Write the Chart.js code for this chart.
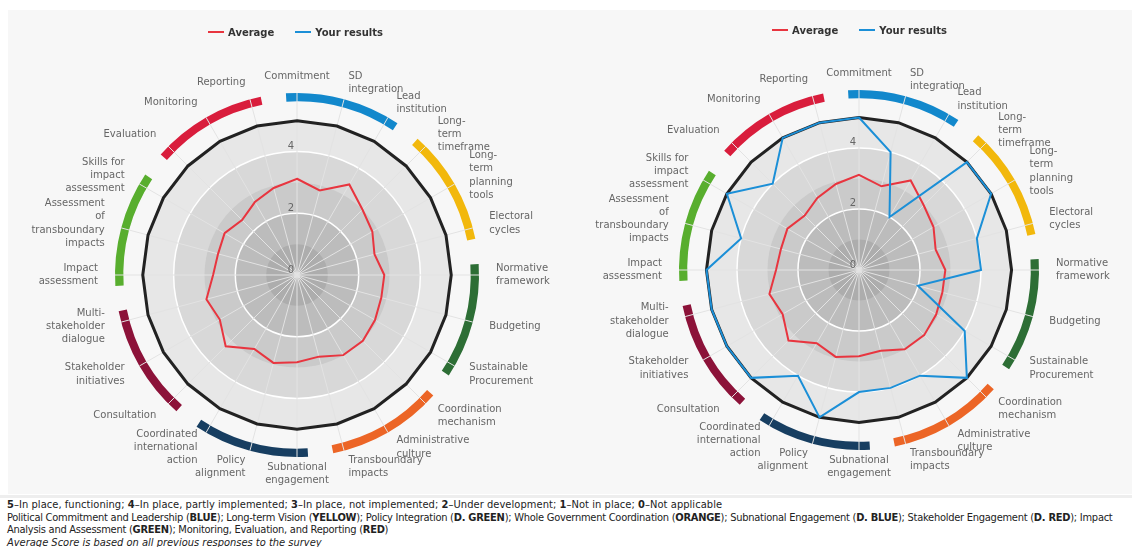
<!DOCTYPE html>
<html>
<head>
<meta charset="utf-8">
<script src="https://cdn.jsdelivr.net/npm/chart.js@4.4.1/dist/chart.umd.min.js"></script>
<style>
  body { margin:0; width:1132px; height:547px; overflow:hidden; background:#fff; position:relative; font-family:"DejaVu Sans", sans-serif; }
  .panel { position:absolute; left:8px; top:10px; width:1124px; height:484px; background:#f7f7f7; }
  .rule { position:absolute; left:0; top:495px; width:1132px; height:3px; background:#eeeeee; }
  .chartBox { position:absolute; top:10px; width:562px; height:484px; }
  .chartBox canvas { position:absolute; left:0; top:0; }
  .legend { position:absolute; display:flex; align-items:center; height:14px; font:bold 10px "DejaVu Sans", sans-serif; color:#333; white-space:nowrap; }
  .legend .item { display:flex; align-items:center; margin-right:21px; }
  .legend .swatch { width:16px; height:2px; margin-right:4px; }
  .footer { position:absolute; left:7px; top:499px; font-family:"Liberation Sans Narrow","DejaVu Sans Condensed","Roboto Condensed",sans-serif; font-stretch:condensed; font-size:11px; line-height:12.7px; color:#222; white-space:nowrap; }
  .footer .first { letter-spacing:0.06px; }
  .footer .tight { letter-spacing:-0.26px; }
</style>
</head>
<body>
<div class="panel"></div>
<div class="rule"></div>
<div class="chartBox" style="left:8px"><canvas id="chartLeft" width="562" height="484"></canvas></div>
<div class="chartBox" style="left:570px"><canvas id="chartRight" width="562" height="484"></canvas></div>
<div class="legend" id="legendLeft" style="left:208px; top:25px"></div>
<div class="legend" id="legendRight" style="left:772px; top:23px"></div>
<div class="footer">
  <div class="first"><b>5</b>–In place, functioning; <b>4</b>–In place, partly implemented; <b>3</b>–In place, not implemented; <b>2</b>–Under development; <b>1</b>–Not in place; <b>0</b>–Not applicable</div>
  <div class="tight">Political Commitment and Leadership (<b>BLUE</b>); Long-term Vision (<b>YELLOW</b>); Policy Integration (<b>D. GREEN</b>); Whole Government Coordination (<b>ORANGE</b>); Subnational Engagement (<b>D. BLUE</b>); Stakeholder Engagement (<b>D. RED</b>); Impact</div>
  <div class="tight">Analysis and Assessment (<b>GREEN</b>); Monitoring, Evaluation, and Reporting (<b>RED</b>)</div>
  <div><i>Average Score is based on all previous responses to the survey</i></div>
</div>
<script>
const categories = [
  ['Commitment'], ['SD', 'integration'], ['Lead', 'institution'],
  ['Long-', 'term', 'timeframe'], ['Long-', 'term', 'planning', 'tools'], ['Electoral', 'cycles'],
  ['Normative', 'framework'], ['Budgeting'], ['Sustainable', 'Procurement'],
  ['Coordination', 'mechanism'], ['Administrative', 'culture'], ['Transboundary', 'impacts'],
  ['Subnational', 'engagement'], ['Policy', 'alignment'], ['Coordinated', 'international', 'action'],
  ['Consultation'], ['Stakeholder', 'initiatives'], ['Multi-', 'stakeholder', 'dialogue'],
  ['Impact', 'assessment'], ['Assessment', 'of', 'transboundary', 'impacts'], ['Skills for', 'impact', 'assessment'],
  ['Evaluation'], ['Monitoring'], ['Reporting']
];
const averageScores = [3.12, 2.84, 3.39, 3.0, 2.82, 2.6, 2.83, 2.83, 2.92, 3.02, 3.0, 2.74,
                       2.83, 2.95, 2.77, 3.27, 2.89, 3.04, 2.72, 2.65, 2.71, 2.52, 2.73, 2.92];
const yourScores = [5, 4, 2, 5, 5, 4, 4, 2, 4, 5, 4, 4, 4, 5, 4, 5, 5, 5, 5, 4, 5, 4, 5, 5];
const maxScore = 5;
const scaleMax = 5.9;
const tickLabels = [0, 2, 4];
const bandColors = ['#adadad', '#bcbcbc', '#cacaca', '#d8d8d8', '#e7e7e7'];
const groupColors = ['#1288cc', '#f2b80c', '#2d6e35', '#ec6526', '#173e61', '#8c1239', '#58ae2e', '#d91d3c'];
const groupSize = 3;
const seriesNames = ['Average', 'Your results'];
const seriesColors = ['#e8353f', '#1b8fd7'];

const radarDecor = {
  id: 'radarDecor',
  beforeDraw(chart) {
    const r = chart.scales.r, ctx = chart.ctx;
    const cx = r.xCenter, cy = r.yCenter;
    ctx.save();
    for (let k = bandColors.length - 1; k >= 0; k--) {
      ctx.beginPath();
      ctx.arc(cx, cy, r.getDistanceFromCenterForValue(k + 1), 0, Math.PI * 2);
      ctx.fillStyle = bandColors[k];
      ctx.fill();
    }
    const step = Math.PI * 2 / categories.length;
    const half = step * groupSize / 2 - 4 * Math.PI / 180;
    const inner = r.getDistanceFromCenterForValue(5.63);
    const outer = r.getDistanceFromCenterForValue(scaleMax);
    groupColors.forEach((c, g) => {
      const mid = r.getIndexAngle(g * groupSize + 1) - Math.PI / 2;
      ctx.beginPath();
      ctx.arc(cx, cy, (inner + outer) / 2, mid - half, mid + half);
      ctx.lineWidth = outer - inner;
      ctx.lineCap = 'butt';
      ctx.strokeStyle = c;
      ctx.stroke();
    });
    ctx.restore();
  },
  afterDraw(chart) {
    const r = chart.scales.r, ctx = chart.ctx;
    const dist = r.drawingArea + 17;
    const lineH = 13.2;
    ctx.save();
    ctx.font = '10px "DejaVu Sans"';
    ctx.fillStyle = '#666';
    ctx.textBaseline = 'middle';
    chart.data.labels.forEach((lines, i) => {
      const p = r.getPointPosition(i, dist);
      const deg = Math.round(r.getIndexAngle(i) * 180 / Math.PI) % 360;
      ctx.textAlign = (deg === 0 || deg === 180) ? 'center' : deg < 180 ? 'left' : 'right';
      const top = p.y - (lines.length - 1) * lineH / 2;
      lines.forEach((t, j) => ctx.fillText(t, p.x, top + j * lineH));
    });
    ctx.textAlign = 'right';
    ctx.textBaseline = 'alphabetic';
    tickLabels.forEach(v => {
      ctx.fillText(String(v), r.xCenter - 3, r.yCenter - r.getDistanceFromCenterForValue(v) - 2.5);
    });
    ctx.restore();
  }
};

function buildLegend(id) {
  document.getElementById(id).innerHTML = seriesNames.map((n, i) =>
    `<div class="item"><div class="swatch" style="background:${seriesColors[i]}"></div>${n}</div>`).join('');
}

function makeChart(id, yours, pad) {
  const line = (label, data, color, width, order) => ({
    label, data, borderColor: color, backgroundColor: 'transparent', borderWidth: width,
    pointRadius: 0, pointHoverRadius: 0, fill: false, tension: 0, order
  });
  return new Chart(document.getElementById(id), {
    type: 'radar',
    data: {
      labels: categories,
      datasets: [
        line(seriesNames[0], averageScores, seriesColors[0], 2, 1),
        line(seriesNames[1], yours, seriesColors[1], 2, 0),
        line('Max', categories.map(() => maxScore), '#222222', 3, 2)
      ]
    },
    options: {
      responsive: false,
      animation: false,
      layout: { padding: pad },
      plugins: { legend: { display: false }, tooltip: { enabled: false } },
      scales: {
        r: {
          min: 0, max: scaleMax,
          ticks: { display: false, stepSize: 2, includeBounds: false },
          grid: { circular: true, color: '#ffffff', lineWidth: 1.5 },
          angleLines: { color: '#e3e3e3', lineWidth: 1 },
          pointLabels: { display: false }
        }
      }
    },
    plugins: [radarDecor]
  });
}

buildLegend('legendLeft');
buildLegend('legendRight');
makeChart('chartLeft', [], { left: 107, right: 91, top: 83, bottom: 37 });
makeChart('chartRight', yourScores, { left: 109, right: 93, top: 80, bottom: 44 });
</script>
</body>
</html>
